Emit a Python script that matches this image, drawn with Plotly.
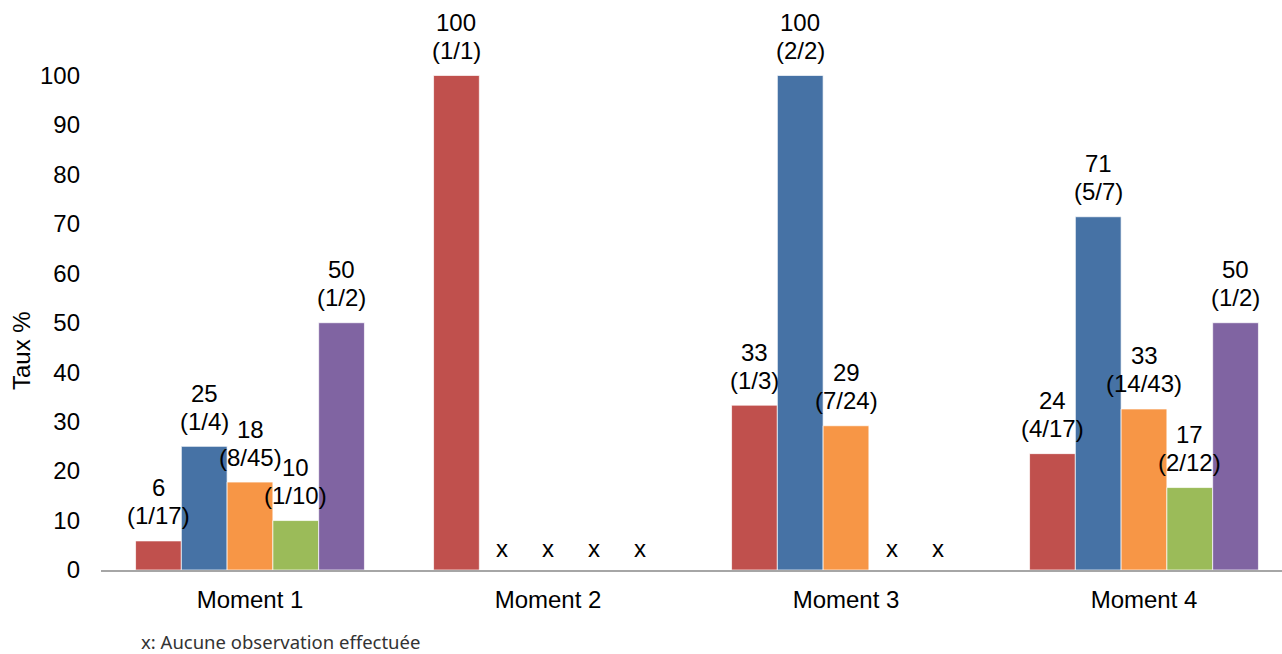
import plotly.graph_objects as go

moments = ["Moment 1", "Moment 2", "Moment 3", "Moment 4"]
series_names = ["Série 1", "Série 2", "Série 3", "Série 4", "Série 5"]
colors = ["#C0504D", "#4672A5", "#F79646", "#9BBB59", "#8064A2"]

# taux % per series, one value per moment (None = aucune observation)
s1_values = [5.88, 100.0, 33.33, 23.53]
s2_values = [25.0, None, 100.0, 71.43]
s3_values = [17.78, None, 29.17, 32.56]
s4_values = [10.0, None, None, 16.67]
s5_values = [50.0, None, None, 50.0]

s1_labels = ["6", "100", "33", "24"]
s2_labels = ["25", None, "100", "71"]
s3_labels = ["18", None, "29", "33"]
s4_labels = ["10", None, None, "17"]
s5_labels = ["50", None, None, "50"]

s1_fracs = ["(1/17)", "(1/1)", "(1/3)", "(4/17)"]
s2_fracs = ["(1/4)", None, "(2/2)", "(5/7)"]
s3_fracs = ["(8/45)", None, "(7/24)", "(14/43)"]
s4_fracs = ["(1/10)", None, None, "(2/12)"]
s5_fracs = ["(1/2)", None, None, "(1/2)"]

y_ticks = [0, 10, 20, 30, 40, 50, 60, 70, 80, 90, 100]
y_title = "Taux %"
footnote = "x: Aucune observation effectuée"

values = [s1_values, s2_values, s3_values, s4_values, s5_values]
labels = [s1_labels, s2_labels, s3_labels, s4_labels, s5_labels]
fracs = [s1_fracs, s2_fracs, s3_fracs, s4_fracs, s5_fracs]

FONT = "Arial, Liberation Sans, sans-serif"
FS = 24
BARGAP = 0.232
n_series = len(values)
bar_w = (1 - BARGAP) / n_series
xs = list(range(len(moments)))

fig = go.Figure()
annotations = []
for j in range(n_series):
    fig.add_trace(go.Bar(
        x=xs, y=[v if v is not None else 0 for v in values[j]],
        name=series_names[j],
        marker=dict(color=colors[j], line=dict(color="rgba(255,255,255,0.7)", width=1)),
        showlegend=False, hoverinfo="y",
    ))
    for i in xs:
        xpos = i + (j - (n_series - 1) / 2) * bar_w
        v = values[j][i]
        if v is None:
            annotations.append(dict(x=xpos, y=0, xref="x", yref="y", text="x",
                                    showarrow=False, yanchor="middle", yshift=22,
                                    font=dict(family=FONT, size=FS, color="#000")))
        else:
            annotations.append(dict(x=xpos, y=v, xref="x", yref="y", text=fracs[j][i],
                                    showarrow=False, yanchor="middle", yshift=25,
                                    font=dict(family=FONT, size=FS, color="#000")))
            annotations.append(dict(x=xpos, y=v, xref="x", yref="y", text=labels[j][i],
                                    showarrow=False, yanchor="middle", yshift=53,
                                    font=dict(family=FONT, size=FS, color="#000")))

W, H = 1282, 654
ML, MR, MT, MB = 101, 0, 26, 84
plot_w = W - ML - MR
plot_h = H - MT - MB
px_per_cat = 298
x_max = -0.5 + plot_w / px_per_cat

annotations.append(dict(xref="paper", yref="paper",
                        x=(21 - ML) / plot_w, y=(H - MB - 351) / plot_h,
                        text=y_title, textangle=-90, showarrow=False,
                        xanchor="center", yanchor="middle",
                        font=dict(family=FONT, size=FS, color="#000")))
annotations.append(dict(xref="paper", yref="paper",
                        x=(140 - ML) / plot_w, y=(H - MB - 641) / plot_h,
                        text=footnote, showarrow=False,
                        xanchor="left", yanchor="middle", borderpad=0,
                        font=dict(family="Noto Sans, Open Sans, sans-serif", size=18.5, color="#333")))

fig.update_layout(
    width=W, height=H,
    margin=dict(l=ML, r=MR, t=MT, b=MB, pad=0),
    barmode="group", bargap=BARGAP, bargroupgap=0,
    plot_bgcolor="white", paper_bgcolor="white",
    annotations=annotations,
    font=dict(family=FONT, size=FS, color="#000"),
)
fig.update_xaxes(
    range=[-0.5, x_max], tickmode="array", tickvals=xs, ticktext=moments,
    showgrid=False, zeroline=False, showline=True, linecolor="#A6A6A6", linewidth=2,
    ticks="", ticklabelstandoff=7, tickfont=dict(family=FONT, size=FS, color="#000"),
)
fig.update_yaxes(
    range=[0, 110], tickmode="array", tickvals=y_ticks,
    showgrid=False, zeroline=False, showline=False,
    ticks="", ticklabelstandoff=20, tickfont=dict(family=FONT, size=FS, color="#000"),
)
fig.update_traces(cliponaxis=False)

fig.write_html(
    "out.html",
    config={"displayModeBar": False},
    post_script="document.body.style.margin='0';document.body.style.overflow='hidden';",
)
